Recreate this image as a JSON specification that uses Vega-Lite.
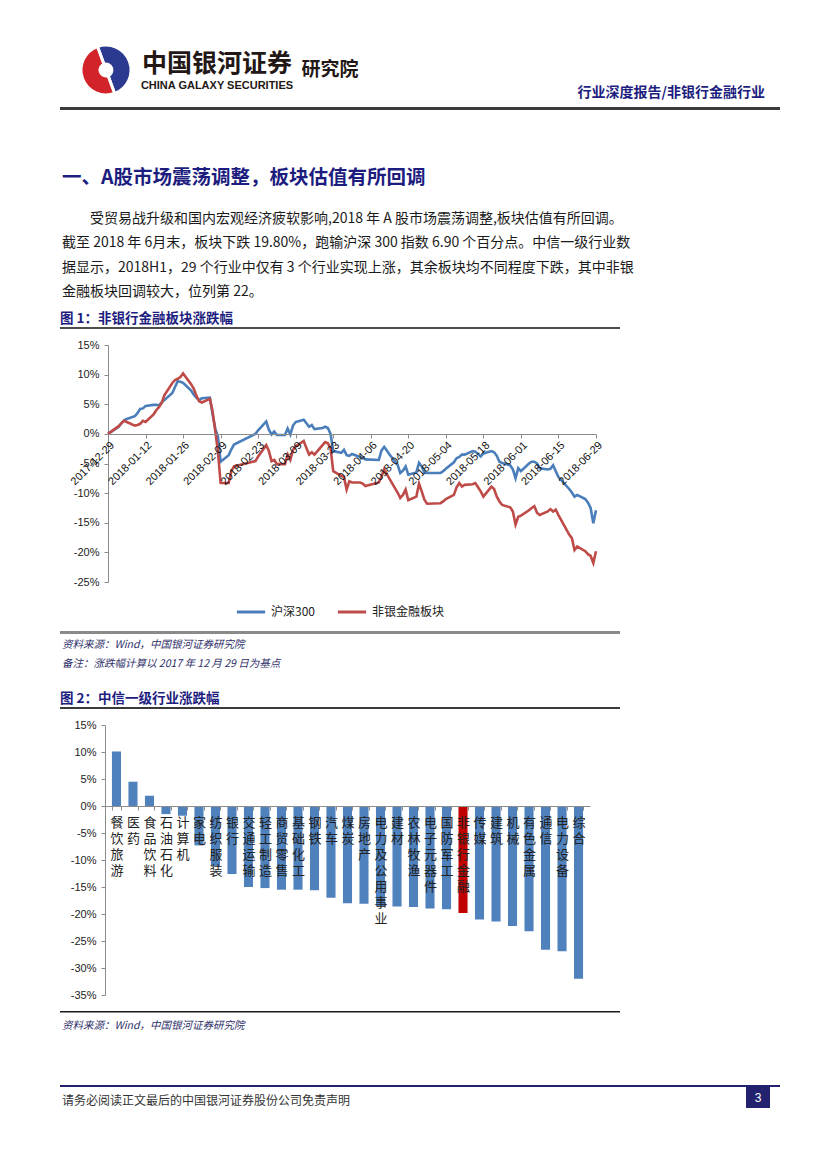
{
"$schema": "https://vega.github.io/schema/vega-lite/v6.json",
"background": "white",
"padding": {"left": 60, "top": 39, "right": 20, "bottom": 20},
"spacing": 0,
"bounds": "flush",
"resolve": {"scale": {"color": "independent", "x": "independent", "y": "independent"}},
"config": {"view": {"stroke": null}, "title": {"font": "Noto Sans CJK SC", "subtitleFont": "Noto Sans CJK SC", "anchor": "start", "frame": "group"}, "legend": {"layout": {"bottom": {"anchor": "middle"}}}},
"vconcat": [
{"width": 92, "height": 50,
 "data": {"values": [{"part": "blue", "share": 1}, {"part": "red", "share": 1}]},
 "layer": [
  {"mark": {"type": "arc", "outerRadius": 25, "innerRadius": 6, "stroke": "white", "strokeWidth": 3},
   "encoding": {"theta": {"field": "share", "type": "quantitative", "stack": true, "scale": {"range": [-0.35, 5.933]}},
                "color": {"field": "part", "type": "nominal", "scale": {"domain": ["blue", "red"], "range": ["#2b3990", "#d2232a"]}, "legend": null}}},
  {"data": {"values": [{"t": "中国银河证券"}]}, "mark": {"type": "text", "fontSize": 25, "fontWeight": "bold", "font": "Noto Sans CJK SC", "color": "#231815", "align": "center", "baseline": "middle", "dx": 111, "dy": -6}, "encoding": {"text": {"field": "t"}}},
  {"data": {"values": [{"t": "CHINA GALAXY SECURITIES"}]}, "mark": {"type": "text", "fontSize": 11, "fontWeight": "bold", "font": "Liberation Sans Narrow, Liberation Sans", "color": "#231815", "align": "center", "baseline": "middle", "dx": 111, "dy": 15.5}, "encoding": {"text": {"field": "t"}}},
  {"data": {"values": [{"t": "研究院"}]}, "mark": {"type": "text", "fontSize": 19, "fontWeight": "bold", "font": "Noto Sans CJK SC", "color": "#231815", "align": "center", "baseline": "middle", "dx": 224, "dy": 0}, "encoding": {"text": {"field": "t"}}}
 ]},
{"width": 720, "height": 12, "data": {"values": [{}]}, "mark": {"type": "text", "text": ""}, "encoding": {}},
{"width": 720, "height": 3, "view": {"fill": "#3a3a3a"}, "data": {"values": [{}]}, "mark": {"type": "text", "text": ""}, "encoding": {},
 "title": {"text": "行业深度报告/非银行金融行业", "anchor": "end", "orient": "top", "offset": 3, "dx": -15, "fontSize": 14, "fontWeight": "bold", "color": "#1d1d80"}},
{"width": 720, "height": 190, "data": {"values": [{}]}, "mark": {"type": "text", "text": ""}, "encoding": {}},
{"width": 560, "height": 27, "data": {"values": [{}]}, "mark": {"type": "text", "text": ""}, "encoding": {},
 "title": {"text": "一、A股市场震荡调整，板块估值有所回调",
   "subtitle": ["\u200b\u3000\u3000受贸易战升级和国内宏观经济疲软影响,2018 年 A 股市场震荡调整,板块估值有所回调。",
                "截至 2018 年 6月末，板块下跌 19.80%，跑输沪深 300 指数 6.90 个百分点。中信一级行业数",
                "据显示，2018H1，29 个行业中仅有 3 个行业实现上涨，其余板块均不同程度下跌，其中非银",
                "金融板块回调较大，位列第 22。"],
   "offset": 0, "dx": 2, "fontSize": 19.5, "fontWeight": "bold", "color": "#1d1d80",
   "subtitleFontSize": 14, "subtitleColor": "#1a1a1a", "subtitleLineHeight": 24.3, "subtitlePadding": 24, "subtitleFontWeight": "normal"}},
{"width": 560, "height": 2, "view": {"fill": "#4d4d4d"}, "data": {"values": [{}]}, "mark": {"type": "text", "text": ""}, "encoding": {},
 "title": {"text": "图 1：非银行金融板块涨跌幅", "offset": -3, "fontSize": 13.5, "fontWeight": "bold", "color": "#1d1d80"}},
{"width": 560, "height": 16, "data": {"values": [{}]}, "mark": {"type": "text", "text": ""}, "encoding": {}},
{"width": 560, "height": 237,
 "data": {"values": [
{"date":"2017-12-29","series":"沪深300","value":0},{"date":"2018-01-02","series":"沪深300","value":1.2},{"date":"2018-01-03","series":"沪深300","value":1.8},{"date":"2018-01-04","series":"沪深300","value":2.3},{"date":"2018-01-05","series":"沪深300","value":2.5},{"date":"2018-01-08","series":"沪深300","value":3.0},{"date":"2018-01-09","series":"沪深300","value":3.5},{"date":"2018-01-10","series":"沪深300","value":4.2},{"date":"2018-01-11","series":"沪深300","value":4.3},{"date":"2018-01-12","series":"沪深300","value":4.7},{"date":"2018-01-15","series":"沪深300","value":4.9},{"date":"2018-01-16","series":"沪深300","value":4.9},{"date":"2018-01-17","series":"沪深300","value":4.8},{"date":"2018-01-18","series":"沪深300","value":5.3},{"date":"2018-01-19","series":"沪深300","value":5.7},{"date":"2018-01-22","series":"沪深300","value":6.9},{"date":"2018-01-23","series":"沪深300","value":7.9},{"date":"2018-01-24","series":"沪深300","value":8.9},{"date":"2018-01-25","series":"沪深300","value":8.8},{"date":"2018-01-26","series":"沪深300","value":8.6},{"date":"2018-01-29","series":"沪深300","value":7.3},{"date":"2018-01-30","series":"沪深300","value":6.6},{"date":"2018-01-31","series":"沪深300","value":6.1},
{"date":"2018-02-01","series":"沪深300","value":5.7},{"date":"2018-02-02","series":"沪深300","value":6.0},{"date":"2018-02-05","series":"沪深300","value":6.1},{"date":"2018-02-06","series":"沪深300","value":3.3},{"date":"2018-02-07","series":"沪深300","value":0.9},{"date":"2018-02-08","series":"沪深300","value":-0.5},{"date":"2018-02-09","series":"沪深300","value":-4.7},{"date":"2018-02-12","series":"沪深300","value":-3.6},{"date":"2018-02-13","series":"沪深300","value":-2.6},{"date":"2018-02-14","series":"沪深300","value":-1.8},{"date":"2018-02-22","series":"沪深300","value":0.0},{"date":"2018-02-23","series":"沪深300","value":0.6},{"date":"2018-02-26","series":"沪深300","value":2.1},{"date":"2018-02-27","series":"沪深300","value":0.7},{"date":"2018-02-28","series":"沪深300","value":-0.1},
{"date":"2018-03-01","series":"沪深300","value":0.4},{"date":"2018-03-02","series":"沪深300","value":-0.2},{"date":"2018-03-05","series":"沪深300","value":-0.2},{"date":"2018-03-06","series":"沪深300","value":0.9},{"date":"2018-03-07","series":"沪深300","value":-0.1},{"date":"2018-03-08","series":"沪深300","value":1.4},{"date":"2018-03-09","series":"沪深300","value":2.0},{"date":"2018-03-12","series":"沪深300","value":2.4},{"date":"2018-03-13","series":"沪深300","value":1.8},{"date":"2018-03-14","series":"沪深300","value":1.2},{"date":"2018-03-15","series":"沪深300","value":1.5},{"date":"2018-03-16","series":"沪深300","value":0.8},{"date":"2018-03-19","series":"沪深300","value":1.0},{"date":"2018-03-20","series":"沪深300","value":1.2},{"date":"2018-03-21","series":"沪深300","value":1.0},{"date":"2018-03-22","series":"沪深300","value":0.0},{"date":"2018-03-23","series":"沪深300","value":-2.9},{"date":"2018-03-26","series":"沪深300","value":-3.2},{"date":"2018-03-27","series":"沪深300","value":-2.7},{"date":"2018-03-28","series":"沪深300","value":-3.6},{"date":"2018-03-29","series":"沪深300","value":-3.7},{"date":"2018-03-30","series":"沪深300","value":-3.4},
{"date":"2018-04-02","series":"沪深300","value":-3.9},{"date":"2018-04-03","series":"沪深300","value":-4.1},{"date":"2018-04-04","series":"沪深300","value":-4.3},{"date":"2018-04-09","series":"沪深300","value":-4.4},{"date":"2018-04-10","series":"沪深300","value":-2.8},{"date":"2018-04-11","series":"沪深300","value":-2.2},{"date":"2018-04-12","series":"沪深300","value":-2.8},{"date":"2018-04-13","series":"沪深300","value":-3.5},{"date":"2018-04-16","series":"沪深300","value":-5.2},{"date":"2018-04-17","series":"沪深300","value":-6.6},{"date":"2018-04-18","series":"沪深300","value":-6.2},{"date":"2018-04-19","series":"沪深300","value":-5.5},{"date":"2018-04-20","series":"沪深300","value":-6.9},{"date":"2018-04-23","series":"沪深300","value":-6.5},{"date":"2018-04-24","series":"沪深300","value":-4.9},{"date":"2018-04-25","series":"沪深300","value":-5.5},{"date":"2018-04-26","series":"沪深300","value":-6.5},{"date":"2018-04-27","series":"沪深300","value":-6.6},
{"date":"2018-05-02","series":"沪深300","value":-6.6},{"date":"2018-05-03","series":"沪深300","value":-6.3},{"date":"2018-05-04","series":"沪深300","value":-5.9},{"date":"2018-05-07","series":"沪深300","value":-4.8},{"date":"2018-05-08","series":"沪深300","value":-4.1},{"date":"2018-05-09","series":"沪深300","value":-3.9},{"date":"2018-05-10","series":"沪深300","value":-3.5},{"date":"2018-05-11","series":"沪深300","value":-3.5},{"date":"2018-05-14","series":"沪深300","value":-2.9},{"date":"2018-05-15","series":"沪深300","value":-3.0},{"date":"2018-05-16","series":"沪深300","value":-3.4},{"date":"2018-05-17","series":"沪深300","value":-3.8},{"date":"2018-05-18","series":"沪深300","value":-3.3},{"date":"2018-05-21","series":"沪深300","value":-2.9},{"date":"2018-05-22","series":"沪深300","value":-3.1},{"date":"2018-05-23","series":"沪深300","value":-3.7},{"date":"2018-05-24","series":"沪深300","value":-4.7},{"date":"2018-05-25","series":"沪深300","value":-4.9},{"date":"2018-05-28","series":"沪深300","value":-5.3},{"date":"2018-05-29","series":"沪深300","value":-6.0},{"date":"2018-05-30","series":"沪深300","value":-7.5},{"date":"2018-05-31","series":"沪深300","value":-5.8},
{"date":"2018-06-01","series":"沪深300","value":-6.3},{"date":"2018-06-04","series":"沪深300","value":-5.0},{"date":"2018-06-05","series":"沪深300","value":-4.7},{"date":"2018-06-06","series":"沪深300","value":-4.7},{"date":"2018-06-07","series":"沪深300","value":-5.0},{"date":"2018-06-08","series":"沪深300","value":-5.8},{"date":"2018-06-11","series":"沪深300","value":-6.0},{"date":"2018-06-12","series":"沪深300","value":-5.9},{"date":"2018-06-13","series":"沪深300","value":-5.3},{"date":"2018-06-14","series":"沪深300","value":-6.3},{"date":"2018-06-15","series":"沪深300","value":-7.3},{"date":"2018-06-19","series":"沪深300","value":-9.3},{"date":"2018-06-20","series":"沪深300","value":-9.9},{"date":"2018-06-21","series":"沪深300","value":-10.6},{"date":"2018-06-22","series":"沪深300","value":-10.3},{"date":"2018-06-25","series":"沪深300","value":-11.0},{"date":"2018-06-26","series":"沪深300","value":-11.6},{"date":"2018-06-27","series":"沪深300","value":-12.5},{"date":"2018-06-28","series":"沪深300","value":-15.1},{"date":"2018-06-29","series":"沪深300","value":-12.9},
{"date":"2017-12-29","series":"非银金融板块","value":0},{"date":"2018-01-02","series":"非银金融板块","value":1.3},{"date":"2018-01-03","series":"非银金融板块","value":1.8},{"date":"2018-01-04","series":"非银金融板块","value":2.2},{"date":"2018-01-05","series":"非银金融板块","value":2.0},{"date":"2018-01-08","series":"非银金融板块","value":1.4},{"date":"2018-01-09","series":"非银金融板块","value":1.5},{"date":"2018-01-10","series":"非银金融板块","value":1.7},{"date":"2018-01-11","series":"非银金融板块","value":2.2},{"date":"2018-01-12","series":"非银金融板块","value":2.0},{"date":"2018-01-15","series":"非银金融板块","value":3.3},{"date":"2018-01-16","series":"非银金融板块","value":4.0},{"date":"2018-01-17","series":"非银金融板块","value":4.5},{"date":"2018-01-18","series":"非银金融板块","value":5.2},{"date":"2018-01-19","series":"非银金融板块","value":6.5},{"date":"2018-01-22","series":"非银金融板块","value":8.6},{"date":"2018-01-23","series":"非银金融板块","value":9.1},{"date":"2018-01-24","series":"非银金融板块","value":9.3},{"date":"2018-01-25","series":"非银金融板块","value":9.6},{"date":"2018-01-26","series":"非银金融板块","value":10.2},{"date":"2018-01-29","series":"非银金融板块","value":8.4},{"date":"2018-01-30","series":"非银金融板块","value":7.6},{"date":"2018-01-31","series":"非银金融板块","value":6.4},
{"date":"2018-02-01","series":"非银金融板块","value":5.5},{"date":"2018-02-02","series":"非银金融板块","value":5.3},{"date":"2018-02-05","series":"非银金融板块","value":5.9},{"date":"2018-02-06","series":"非银金融板块","value":3.8},{"date":"2018-02-07","series":"非银金融板块","value":0.5},{"date":"2018-02-08","series":"非银金融板块","value":-3.0},{"date":"2018-02-09","series":"非银金融板块","value":-8.3},{"date":"2018-02-12","series":"非银金融板块","value":-8.3},{"date":"2018-02-13","series":"非银金融板块","value":-6.3},{"date":"2018-02-14","series":"非银金融板块","value":-5.5},{"date":"2018-02-22","series":"非银金融板块","value":-4.6},{"date":"2018-02-23","series":"非银金融板块","value":-3.8},{"date":"2018-02-26","series":"非银金融板块","value":-1.9},{"date":"2018-02-27","series":"非银金融板块","value":-2.9},{"date":"2018-02-28","series":"非银金融板块","value":-4.6},
{"date":"2018-03-01","series":"非银金融板块","value":-4.4},{"date":"2018-03-02","series":"非银金融板块","value":-5.1},{"date":"2018-03-05","series":"非银金融板块","value":-5.1},{"date":"2018-03-06","series":"非银金融板块","value":-3.5},{"date":"2018-03-07","series":"非银金融板块","value":-4.4},{"date":"2018-03-08","series":"非银金融板块","value":-2.7},{"date":"2018-03-09","series":"非银金融板块","value":-2.1},{"date":"2018-03-12","series":"非银金融板块","value":-1.2},{"date":"2018-03-13","series":"非银金融板块","value":-2.4},{"date":"2018-03-14","series":"非银金融板块","value":-3.5},{"date":"2018-03-15","series":"非银金融板块","value":-3.1},{"date":"2018-03-16","series":"非银金融板块","value":-3.5},{"date":"2018-03-19","series":"非银金融板块","value":-1.9},{"date":"2018-03-20","series":"非银金融板块","value":-1.4},{"date":"2018-03-21","series":"非银金融板块","value":-1.6},{"date":"2018-03-22","series":"非银金融板块","value":-2.4},{"date":"2018-03-23","series":"非银金融板块","value":-6.3},{"date":"2018-03-26","series":"非银金融板块","value":-7.1},{"date":"2018-03-27","series":"非银金融板块","value":-7.3},{"date":"2018-03-28","series":"非银金融板块","value":-9.4},{"date":"2018-03-29","series":"非银金融板块","value":-8.0},{"date":"2018-03-30","series":"非银金融板块","value":-8.2},
{"date":"2018-04-02","series":"非银金融板块","value":-8.2},{"date":"2018-04-03","series":"非银金融板块","value":-8.4},{"date":"2018-04-04","series":"非银金融板块","value":-8.8},{"date":"2018-04-09","series":"非银金融板块","value":-8.2},{"date":"2018-04-10","series":"非银金融板块","value":-7.2},{"date":"2018-04-11","series":"非银金融板块","value":-6.0},{"date":"2018-04-12","series":"非银金融板块","value":-6.8},{"date":"2018-04-13","series":"非银金融板块","value":-7.6},{"date":"2018-04-16","series":"非银金融板块","value":-9.9},{"date":"2018-04-17","series":"非银金融板块","value":-10.8},{"date":"2018-04-18","series":"非银金融板块","value":-10.3},{"date":"2018-04-19","series":"非银金融板块","value":-9.4},{"date":"2018-04-20","series":"非银金融板块","value":-11.2},{"date":"2018-04-23","series":"非银金融板块","value":-10.6},{"date":"2018-04-24","series":"非银金融板块","value":-8.4},{"date":"2018-04-25","series":"非银金融板块","value":-9.7},{"date":"2018-04-26","series":"非银金融板块","value":-11.1},{"date":"2018-04-27","series":"非银金融板块","value":-11.8},
{"date":"2018-05-02","series":"非银金融板块","value":-11.7},{"date":"2018-05-03","series":"非银金融板块","value":-11.4},{"date":"2018-05-04","series":"非银金融板块","value":-11.0},{"date":"2018-05-07","series":"非银金融板块","value":-10.3},{"date":"2018-05-08","series":"非银金融板块","value":-9.0},{"date":"2018-05-09","series":"非银金融板块","value":-8.3},{"date":"2018-05-10","series":"非银金融板块","value":-8.9},{"date":"2018-05-11","series":"非银金融板块","value":-8.6},{"date":"2018-05-14","series":"非银金融板块","value":-8.5},{"date":"2018-05-15","series":"非银金融板块","value":-8.3},{"date":"2018-05-16","series":"非银金融板块","value":-9.0},{"date":"2018-05-17","series":"非银金融板块","value":-9.7},{"date":"2018-05-18","series":"非银金融板块","value":-10.6},{"date":"2018-05-21","series":"非银金融板块","value":-8.9},{"date":"2018-05-22","series":"非银金融板块","value":-9.3},{"date":"2018-05-23","series":"非银金融板块","value":-10.6},{"date":"2018-05-24","series":"非银金融板块","value":-11.4},{"date":"2018-05-25","series":"非银金融板块","value":-12.0},{"date":"2018-05-28","series":"非银金融板块","value":-12.4},{"date":"2018-05-29","series":"非银金融板块","value":-13.1},{"date":"2018-05-30","series":"非银金融板块","value":-15.3},{"date":"2018-05-31","series":"非银金融板块","value":-14.0},
{"date":"2018-06-01","series":"非银金融板块","value":-13.8},{"date":"2018-06-04","series":"非银金融板块","value":-12.9},{"date":"2018-06-05","series":"非银金融板块","value":-12.5},{"date":"2018-06-06","series":"非银金融板块","value":-12.2},{"date":"2018-06-07","series":"非银金融板块","value":-13.3},{"date":"2018-06-08","series":"非银金融板块","value":-13.7},{"date":"2018-06-11","series":"非银金融板块","value":-13.1},{"date":"2018-06-12","series":"非银金融板块","value":-12.7},{"date":"2018-06-13","series":"非银金融板块","value":-13.1},{"date":"2018-06-14","series":"非银金融板块","value":-12.8},{"date":"2018-06-15","series":"非银金融板块","value":-13.7},{"date":"2018-06-19","series":"非银金融板块","value":-17.0},{"date":"2018-06-20","series":"非银金融板块","value":-17.6},{"date":"2018-06-21","series":"非银金融板块","value":-19.6},{"date":"2018-06-22","series":"非银金融板块","value":-19.0},{"date":"2018-06-25","series":"非银金融板块","value":-19.8},{"date":"2018-06-26","series":"非银金融板块","value":-20.3},{"date":"2018-06-27","series":"非银金融板块","value":-20.6},{"date":"2018-06-28","series":"非银金融板块","value":-21.8},{"date":"2018-06-29","series":"非银金融板块","value":-19.8}
 ]},
 "mark": {"type": "line", "strokeWidth": 2.6},
 "encoding": {
  "x": {"field": "date", "type": "temporal",
        "scale": {"type": "utc", "domain": [{"year": 2017, "month": 12, "date": 29, "utc": true}, {"year": 2018, "month": 6, "date": 29, "utc": true}], "range": [48, 536]},
        "axis": {"orient": "bottom", "offset": -148, "title": null, "grid": false,
                 "values": [{"year": 2017, "month": 12, "date": 29, "utc": true}, {"year": 2018, "month": 1, "date": 12, "utc": true}, {"year": 2018, "month": 1, "date": 26, "utc": true}, {"year": 2018, "month": 2, "date": 9, "utc": true}, {"year": 2018, "month": 2, "date": 23, "utc": true}, {"year": 2018, "month": 3, "date": 9, "utc": true}, {"year": 2018, "month": 3, "date": 23, "utc": true}, {"year": 2018, "month": 4, "date": 6, "utc": true}, {"year": 2018, "month": 4, "date": 20, "utc": true}, {"year": 2018, "month": 5, "date": 4, "utc": true}, {"year": 2018, "month": 5, "date": 18, "utc": true}, {"year": 2018, "month": 6, "date": 1, "utc": true}, {"year": 2018, "month": 6, "date": 15, "utc": true}, {"year": 2018, "month": 6, "date": 29, "utc": true}],
                 "format": "%Y-%m-%d", "labelAngle": -45, "labelAlign": "right", "labelBaseline": "top", "labelPadding": 1,
                 "labelFontSize": 11, "labelFont": "Liberation Sans", "labelColor": "#111111",
                 "domainColor": "#8c8c8c", "tickColor": "#8c8c8c", "tickSize": 4, "zindex": 1,
                 "labelOverlap": false, "labelFlush": false, "labelBound": false}},
  "y": {"field": "value", "type": "quantitative", "scale": {"domain": [-25, 15], "nice": false, "zero": false},
        "axis": {"offset": -48, "title": null, "grid": false, "values": [-25, -20, -15, -10, -5, 0, 5, 10, 15], "labelExpr": "datum.value + '%'",
                 "labelFontSize": 11, "labelFont": "Liberation Sans", "labelColor": "#222222", "labelPadding": 5,
                 "domainColor": "#8c8c8c", "tickColor": "#8c8c8c", "tickSize": 4}},
  "color": {"field": "series", "type": "nominal", "scale": {"domain": ["沪深300", "非银金融板块"], "range": ["#4a7ebb", "#be4b48"]},
            "legend": {"orient": "bottom", "direction": "horizontal", "title": null, "symbolType": "stroke", "symbolStrokeWidth": 3, "symbolSize": 800,
                       "labelFontSize": 12, "labelFont": "Noto Sans CJK SC", "labelColor": "#222222", "columnPadding": 16, "offset": 14}}
 }},
{"width": 560, "height": 49, "data": {"values": [{}]}, "mark": {"type": "text", "text": ""}, "encoding": {}},
{"width": 560, "height": 3, "view": {"fill": "#8a8a8a"}, "data": {"values": [{}]}, "mark": {"type": "text", "text": ""}, "encoding": {},
 "title": {"text": "资料来源：Wind，中国银河证券研究院", "subtitle": "备注：涨跌幅计算以 2017 年 12 月 29 日为基点", "orient": "bottom", "offset": 2, "dx": 2,
   "fontSize": 10.5, "fontStyle": "italic", "fontWeight": "normal", "color": "#2f2f6a",
   "subtitleFontSize": 10.5, "subtitleFontStyle": "italic", "subtitleColor": "#2f2f6a", "subtitlePadding": 9}},
{"width": 560, "height": 73, "data": {"values": [{}]}, "mark": {"type": "text", "text": ""}, "encoding": {}},
{"width": 560, "height": 2, "view": {"fill": "#3a3a3a"}, "data": {"values": [{}]}, "mark": {"type": "text", "text": ""}, "encoding": {},
 "title": {"text": "图 2：中信一级行业涨跌幅", "offset": -3, "fontSize": 13.5, "fontWeight": "bold", "color": "#1d1d80"}},
{"width": 560, "height": 16, "data": {"values": [{}]}, "mark": {"type": "text", "text": ""}, "encoding": {}},
{"width": 560, "height": 270,
 "data": {"values": [
  {"industry": "餐饮旅游", "value": 10.1}, {"industry": "医药", "value": 4.5}, {"industry": "食品饮料", "value": 1.9},
  {"industry": "石油石化", "value": -1.5}, {"industry": "计算机", "value": -1.8}, {"industry": "家电", "value": -7.3},
  {"industry": "纺织服装", "value": -11.1}, {"industry": "银行", "value": -12.6}, {"industry": "交通运输", "value": -15.0},
  {"industry": "轻工制造", "value": -15.2}, {"industry": "商贸零售", "value": -15.5}, {"industry": "基础化工", "value": -15.5},
  {"industry": "钢铁", "value": -15.6}, {"industry": "汽车", "value": -17.0}, {"industry": "煤炭", "value": -18.0},
  {"industry": "房地产", "value": -18.1}, {"industry": "电力及公用事业", "value": -18.5}, {"industry": "建材", "value": -18.6},
  {"industry": "农林牧渔", "value": -18.7}, {"industry": "电子元器件", "value": -19.0}, {"industry": "国防军工", "value": -19.1},
  {"industry": "非银行金融", "value": -19.8}, {"industry": "传媒", "value": -21.0}, {"industry": "建筑", "value": -21.4},
  {"industry": "机械", "value": -22.2}, {"industry": "有色金属", "value": -23.2}, {"industry": "通信", "value": -26.6},
  {"industry": "电力设备", "value": -26.9}, {"industry": "综合", "value": -32.0}
 ]},
 "mark": {"type": "bar"},
 "encoding": {
  "x": {"field": "industry", "type": "nominal", "sort": null, "scale": {"range": [45, 530], "paddingInner": 0.45, "paddingOuter": 0.42},
        "axis": {"orient": "bottom", "offset": -189, "title": null, "labelExpr": "split(datum.label, '')", "labelAngle": 0, "labelAlign": "center", "labelBaseline": "top",
                 "labelLineHeight": 16, "labelFontSize": 13, "labelPadding": 6, "labelFont": "Noto Sans CJK SC", "labelColor": "#222222",
                 "ticks": true, "tickBand": "extent", "tickSize": 4, "tickColor": "#8c8c8c", "domainColor": "#8c8c8c", "zindex": 1,
                 "labelOverlap": false, "labelBound": false}},
  "y": {"field": "value", "type": "quantitative", "scale": {"domain": [-35, 15], "nice": false},
        "axis": {"offset": -45, "title": null, "grid": false, "values": [-35, -30, -25, -20, -15, -10, -5, 0, 5, 10, 15], "labelExpr": "datum.value + '%'",
                 "labelFontSize": 11, "labelFont": "Liberation Sans", "labelColor": "#222222", "labelPadding": 5,
                 "domainColor": "#8c8c8c", "tickColor": "#8c8c8c", "tickSize": 4}},
  "color": {"condition": {"test": "datum.industry === '非银行金融'", "value": "#c00000"}, "value": "#4f81bd"}
 }},
{"width": 560, "height": 16, "data": {"values": [{}]}, "mark": {"type": "text", "text": ""}, "encoding": {}},
{"width": 560, "height": 1.5, "view": {"fill": "#1a1a1a"}, "data": {"values": [{}]}, "mark": {"type": "text", "text": ""}, "encoding": {},
 "title": {"text": "资料来源：Wind，中国银河证券研究院", "orient": "bottom", "offset": 4, "dx": 2, "fontSize": 10.5, "fontStyle": "italic", "fontWeight": "normal", "color": "#2f2f6a"}},
{"width": 560, "height": 71.5, "data": {"values": [{}]}, "mark": {"type": "text", "text": ""}, "encoding": {}},
{"width": 720, "height": 2, "view": {"fill": "#22226e"}, "data": {"values": [{}]}, "mark": {"type": "text", "text": ""}, "encoding": {},
 "title": {"text": "请务必阅读正文最后的中国银河证券股份公司免责声明", "orient": "bottom", "offset": 5, "dx": 2, "fontSize": 12, "fontWeight": "normal", "color": "#333333"}},
{"width": 710, "height": 21,
 "data": {"values": [{"page": "3"}]},
 "encoding": {"x": {"field": "page", "type": "nominal", "scale": {"range": [686, 710], "paddingInner": 0, "paddingOuter": 0}, "axis": null}},
 "layer": [
  {"mark": {"type": "bar", "color": "#22226e"}},
  {"mark": {"type": "text", "color": "white", "fontSize": 12, "font": "Liberation Sans", "baseline": "middle"}, "encoding": {"text": {"field": "page"}}}
 ]}
]
}
